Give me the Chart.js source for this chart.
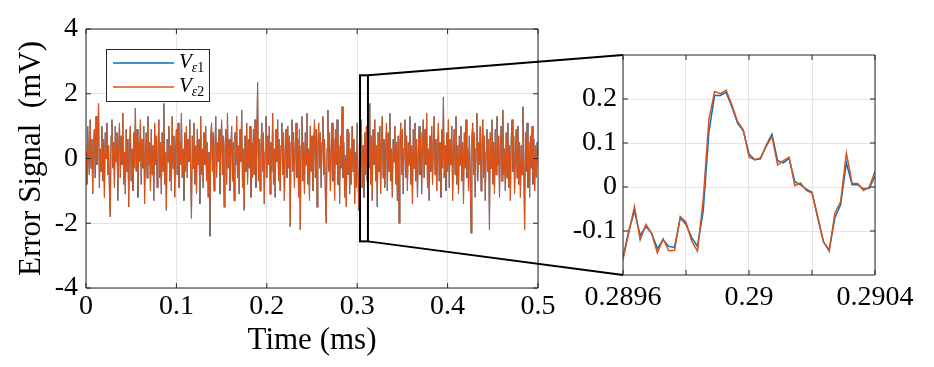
<!DOCTYPE html>
<html>
<head>
<meta charset="utf-8">
<script src="https://cdn.jsdelivr.net/npm/chart.js@4.4.0/dist/chart.umd.min.js"></script>
<style>
  html, body { margin: 0; padding: 0; background: #fff; }
  #wrap { position: relative; width: 934px; height: 367px; overflow: hidden; }
  #main-chart { position: absolute; left: 0; top: 0; }
  #zoom-chart { position: absolute; left: 560px; top: 0; }
</style>
</head>
<body>
<div id="wrap">
  <canvas id="main-chart" width="934" height="367"></canvas>
  <canvas id="zoom-chart" width="374" height="367"></canvas>
</div>
<script>
// Series names (legend)
const seriesBase = ['V', 'V'];
const seriesSub = ['ε', 'ε'];
const seriesIdx = ['1', '2'];
const seriesColors = ['#0072BD', '#D95319'];

// Main plot: error signal over 0..0.5 ms (mV), both channels overlap
const mainV = [
  0.2, -0.8, 1.0, 0.1, -0.5, 1.2, -0.3, 0.6, -1.1, 0.4, 0.9, -0.6, 1.3, -0.2, 0.5, 1.7, -0.9, 0.3, -0.4, 1.0,
  -0.7, 0.6, -1.2, 0.8, 0.0, 1.1, -0.5, 0.4, -1.0, -1.8, 0.7, 1.2, -0.3, 0.5, -0.9, 1.0, -0.1, 0.8, -1.3, 0.3,
  1.1, -0.6, 0.7, -0.2, 1.4, -0.8, 0.2, -1.1, 0.9, -0.4, 0.6, -1.5, 0.4, 1.0, -0.7, 0.3, -1.0, 0.8, -0.3, 1.55,
  -0.4, 0.9, -1.2, 0.5, -0.1, 1.2, -0.8, 0.6, -0.3, 1.0, -1.4, 0.2, 0.8, -0.6, 1.3, -0.2, 0.5, -1.0, 0.9, -0.5,
  0.4, -1.3, 1.1, -0.2, 0.7, -0.9, 0.3, 1.2, -0.6, 0.5, -1.1, 0.8, -0.4, 1.7, -0.8, 0.2, -1.6, 0.6, -0.1, 1.0,
  -0.7, 0.4, -1.0, 1.3, -0.3, 0.7, -1.2, 0.2, 0.9, -0.5, 1.1, -0.9, 0.5, -0.2, 1.4, -0.6, 0.3, -1.3, 0.8, -0.4,
  1.0, -0.6, 0.6, -0.1, 1.2, -0.4, -1.85, 0.7, -0.3, 1.1, -0.8, 0.4, -1.1, 0.9, -0.2, 0.6, -1.4, 1.3, -0.5, 0.3,
  -0.9, 0.8, -0.2, 1.0, -0.7, 0.5, -1.2, 0.2, -2.4, 0.6, 1.1, -0.4, 0.8, -1.0, 0.3, 1.3, -0.6, 0.5, -0.1, 0.9,
  -1.1, 0.4, 1.2, -0.5, 0.7, -1.5, 0.3, 0.9, -0.8, 1.4, -0.3, 0.6, -1.0, 0.2, 1.0, -0.7, 0.5, -1.3, 0.8, -0.2,
  1.3, -0.6, 0.4, -1.1, 0.9, -0.1, 1.5, -0.9, 0.3, -1.6, 0.7, -0.4, 1.1, -0.8, 0.6, -0.3, 1.0, -1.2, 0.5, -0.6,
  0.9, -0.5, 1.2, -0.9, 0.4, 2.35, -0.7, 0.6, -1.0, 0.3, 1.1, -0.4, 0.8, -1.4, 0.2, 1.3, -0.6, 0.7, -0.2, 1.0,
  -1.1, 0.5, -0.4, 1.4, -0.8, 0.3, -1.2, 0.9, -0.1, 1.2, -0.7, 0.6, -1.0, 0.4, 1.1, -0.5, 0.8, -1.3, 0.2, 0.9,
  -0.6, 1.0, -0.3, 0.7, -2.1, 0.5, 1.2, -0.4, 0.8, -0.9, 0.3, 1.1, -0.6, 0.6, -1.2, 0.9, -2.2, 0.4, 1.3, -0.7,
  0.5, -1.1, 0.8, -0.2, 1.4, -0.8, 0.3, -1.3, 1.0, -0.4, 0.7, -1.0, 0.2, 1.2, -0.6, 0.9, -1.5, 0.4, 1.1, -0.3,
  0.8, -0.9, 0.5, 1.3, -0.5, 0.6, -1.2, -2.0, 0.3, 1.5, -0.4, 0.8, -1.0, 0.2, 1.1, -0.7, 0.6, -1.3, 0.9, -0.2,
  1.2, -0.8, 0.4, -1.4, 0.7, -0.3, 1.6, -0.6, 0.5, -1.2, 0.1, -1.5, 0.9, -0.5, 0.8, -1.1, 0.3, -0.8, 1.0, -0.4,
  0.6, -1.4, 0.2, -0.9, 1.1, -0.6, -1.6, 0.3, -0.2, 1.2, -0.9, 0.4, -1.2, 0.8, -0.5, 1.0, -0.7, 0.5, -0.3, 1.7,
  -0.8, 0.7, -1.3, 0.9, -0.2, 1.2, -0.7, 0.4, -1.5, 0.8, -0.4, 1.0, -1.1, 0.5, 1.3, -0.6, 0.6, -0.9, 0.2, 1.1,
  -1.0, 0.8, -0.4, 1.4, -0.7, 0.3, -1.2, 0.6, -0.1, 1.0, -0.8, 0.5, -1.3, 0.7, -2.0, 0.4, 1.1, -0.5, 0.9, -1.1,
  0.3, 1.2, -0.6, 0.7, -1.0, 0.5, -0.2, 1.3, -0.8, 0.4, -1.4, 0.9, -0.3, 1.1, -0.7, 0.6, -1.2, 0.2, 1.0, -0.5,
  0.8, -1.1, 0.4, 1.2, -0.6, 0.9, -0.2, 1.4, -0.9, 0.3, -1.3, 0.7, -0.4, 1.0, -0.8, 0.5, 1.3, -0.5, 0.6, -1.0,
  0.2, 1.1, -0.7, 0.5, -1.2, 0.9, -0.3, 1.9, -0.6, 0.4, -1.0, 0.8, -0.4, 1.2, -0.9, 0.6, -0.2, 1.0, -1.3, 0.3,
  0.9, -0.5, 1.3, -0.8, 0.4, -1.1, 0.7, -0.2, 1.0, -0.7, 0.5, -1.4, 0.8, -0.3, 1.2, -0.6, 0.3, -1.0, 0.7, -0.4,
  -2.3, 0.6, 1.1, -0.5, 0.8, -1.2, 0.3, 1.4, -0.7, 0.5, -0.2, 1.0, -1.0, 0.4, 1.2, -0.6, 0.7, -1.3, 0.2, 0.9,
  -0.4, 0.6, -2.2, 0.8, -0.3, 1.2, -0.8, 0.5, -1.1, 0.9, -0.5, 1.3, -0.2, 0.7, -1.2, 0.4, 1.0, -0.7, 1.5, -0.5,
  0.3, -1.0, 0.8, -0.6, 1.1, -0.9, 0.4, -1.3, 0.6, 1.2, -0.4, 0.7, -1.1, 0.2, 0.9, -0.6, 1.0, -0.8, 0.5, -1.2,
  0.4, -0.5, 1.6, -0.3, -2.2, 0.8, -0.4, 1.1, -0.9, 0.5, -1.2, 0.7, -0.3, 1.0, -0.8, 0.6, -1.0, 0.4, -0.6, 0.5,
  0.1
];
const mainStart = 0;
const mainEnd = 0.5;
const mainXTicks = [0, 0.1, 0.2, 0.3, 0.4, 0.5];
const mainYTicks = [-4, -2, 0, 2, 4];

// Zoomed region marker drawn on the main plot (ms, mV)
const zoomBoxX = [0.3031, 0.3119];
const zoomBoxY = [-2.56, 2.57];

// Inset: 0.2896..0.2904 ms
const zoomV1 = [
  -0.16, -0.10, -0.055, -0.11, -0.09, -0.105, -0.14, -0.12, -0.135, -0.137,
  -0.07, -0.085, -0.115, -0.135, -0.055, 0.125, 0.208, 0.208, 0.215, 0.183,
  0.145, 0.128, 0.075, 0.062, 0.064, 0.095, 0.12, 0.06, 0.055, 0.065,
  0.012, 0.005, -0.005, -0.012, -0.07, -0.125, -0.143, -0.07, -0.04, 0.055,
  0.005, 0.005, -0.004, -0.003, 0.025
];
const zoomV2 = [
  -0.165, -0.105, -0.044, -0.12, -0.085, -0.105, -0.15, -0.118, -0.145, -0.144,
  -0.067, -0.08, -0.123, -0.146, -0.03, 0.153, 0.217, 0.212, 0.22, 0.187,
  0.149, 0.13, 0.068, 0.062, 0.066, 0.092, 0.115, 0.05, 0.06, 0.068,
  0.003, 0.009, -0.008, -0.014, -0.067, -0.124, -0.146, -0.059, -0.033, 0.077,
  0.008, 0.008, -0.008, 0, 0.036
];
const zoomStart = 0.2896;
const zoomEnd = 0.2904;
const zoomXTicks = [0.2896, 0.2898, 0.29, 0.2902, 0.2904];
const zoomXLabels = [0.2896, 0.29, 0.2904];
const zoomYTicks = [-0.1, 0, 0.1, 0.2];

const FONT = "'Liberation Serif', 'Times New Roman', serif";
const GRID = '#e4e4e4';
const AXIS = '#262626';
const INSET_OFFSET = 560;

function toPoints(values, t0, t1) {
  const dt = (t1 - t0) / (values.length - 1);
  return values.map((v, i) => ({ x: t0 + i * dt, y: v }));
}

function drawBox(chart, xTicks, yTicks) {
  const { ctx, chartArea: a, scales: { x, y } } = chart;
  const tl = 5;
  ctx.save();
  ctx.strokeStyle = AXIS;
  ctx.lineWidth = 1;
  ctx.beginPath();
  ctx.rect(a.left, a.top, a.right - a.left, a.bottom - a.top);
  xTicks.forEach((v) => {
    const px = x.getPixelForValue(v);
    ctx.moveTo(px, a.bottom); ctx.lineTo(px, a.bottom - tl);
    ctx.moveTo(px, a.top); ctx.lineTo(px, a.top + tl);
  });
  yTicks.forEach((v) => {
    const py = y.getPixelForValue(v);
    ctx.moveTo(a.left, py); ctx.lineTo(a.left + tl, py);
    ctx.moveTo(a.right, py); ctx.lineTo(a.right - tl, py);
  });
  ctx.stroke();
  ctx.restore();
}

function drawLegend(chart) {
  const { ctx, chartArea: a } = chart;
  const bx = a.left + 20, by = a.top + 20, bw = 103, bh = 52;
  ctx.save();
  ctx.fillStyle = '#fff';
  ctx.fillRect(bx, by, bw, bh);
  ctx.strokeStyle = AXIS;
  ctx.lineWidth = 1;
  ctx.strokeRect(bx + 0.5, by + 0.5, bw, bh);
  seriesBase.forEach((base, i) => {
    const ly = by + 14 + i * 24;
    ctx.strokeStyle = seriesColors[i];
    ctx.lineWidth = 1.5;
    ctx.beginPath();
    ctx.moveTo(bx + 7, ly);
    ctx.lineTo(bx + 68, ly);
    ctx.stroke();
    ctx.fillStyle = '#000';
    ctx.textBaseline = 'alphabetic';
    let tx = bx + 73;
    ctx.font = `italic 21px ${FONT}`;
    ctx.fillText(base, tx, ly + 5);
    tx += ctx.measureText(base).width;
    ctx.font = `italic 14px ${FONT}`;
    ctx.fillText(seriesSub[i], tx, ly + 9);
    tx += ctx.measureText(seriesSub[i]).width;
    ctx.font = `14px ${FONT}`;
    ctx.fillText(seriesIdx[i], tx, ly + 9);
  });
  ctx.restore();
}

function axisFont(size) {
  return { family: FONT, size: size, lineHeight: 1.2 };
}

// Inset first, so the main plot can aim its connector lines at it
const zoomChart = new Chart(document.getElementById('zoom-chart'), {
  type: 'line',
  data: {
    datasets: [
      { label: 'V_e1', data: toPoints(zoomV1, zoomStart, zoomEnd), borderColor: seriesColors[0], borderWidth: 1.5, pointRadius: 0, tension: 0, order: 1 },
      { label: 'V_e2', data: toPoints(zoomV2, zoomStart, zoomEnd), borderColor: seriesColors[1], borderWidth: 1.5, pointRadius: 0, tension: 0, order: 0 }
    ]
  },
  options: {
    responsive: false,
    animation: false,
    events: [],
    layout: { padding: { left: 0, top: 55, right: 59, bottom: 0 } },
    plugins: { legend: { display: false }, tooltip: { enabled: false } },
    scales: {
      x: {
        type: 'linear', min: zoomStart, max: zoomEnd,
        afterBuildTicks: (s) => { s.ticks = zoomXTicks.map((v) => ({ value: v })); },
        afterFit: (s) => { s.height = 92; },
        grid: { color: GRID, drawTicks: false },
        border: { display: false },
        ticks: { color: '#000', font: axisFont(28), padding: 6, maxRotation: 0, autoSkip: false,
          callback: (v) => (zoomXLabels.includes(v) ? String(v) : '') }
      },
      y: {
        min: -0.2, max: 0.3,
        afterBuildTicks: (s) => { s.ticks = zoomYTicks.map((v) => ({ value: v })); },
        afterFit: (s) => { s.width = 63; },
        grid: { color: GRID, drawTicks: false },
        border: { display: false },
        ticks: { color: '#000', font: axisFont(28), padding: 6, callback: (v) => String(v) }
      }
    }
  },
  plugins: [{
    id: 'zoomBox',
    afterDraw: (chart) => drawBox(chart, zoomXTicks, zoomYTicks)
  }]
});

const mainChart = new Chart(document.getElementById('main-chart'), {
  type: 'line',
  data: {
    datasets: [
      { label: 'V_e1', data: toPoints(mainV, mainStart, mainEnd), borderColor: seriesColors[0], borderWidth: 1, pointRadius: 0, tension: 0, order: 1 },
      { label: 'V_e2', data: toPoints(mainV, mainStart, mainEnd), borderColor: seriesColors[1], borderWidth: 1.1, pointRadius: 0, tension: 0, order: 0 }
    ]
  },
  options: {
    responsive: false,
    animation: false,
    events: [],
    layout: { padding: { left: 0, top: 29, right: 396, bottom: 0 } },
    plugins: { legend: { display: false }, tooltip: { enabled: false } },
    scales: {
      x: {
        type: 'linear', min: mainStart, max: mainEnd,
        afterBuildTicks: (s) => { s.ticks = mainXTicks.map((v) => ({ value: v })); },
        afterFit: (s) => { s.height = 79; },
        grid: { color: GRID, drawTicks: false },
        border: { display: false },
        ticks: { color: '#000', font: axisFont(28), padding: 2, maxRotation: 0, autoSkip: false, callback: (v) => String(v) },
        title: { display: true, text: 'Time (ms)', color: '#000', font: axisFont(31), padding: { top: 0, bottom: 8 } }
      },
      y: {
        min: -4, max: 4,
        afterBuildTicks: (s) => { s.ticks = mainYTicks.map((v) => ({ value: v })); },
        afterFit: (s) => { s.width = 86; },
        grid: { color: GRID, drawTicks: false },
        border: { display: false },
        ticks: { color: '#000', font: axisFont(28), padding: 8, callback: (v) => String(v) },
        title: { display: true, text: 'Error Signal  (mV)', color: '#000', font: axisFont(31), padding: { top: 13, bottom: 0 } }
      }
    }
  },
  plugins: [{
    id: 'mainDecor',
    afterDraw: (chart) => {
      drawBox(chart, mainXTicks, mainYTicks);
      drawLegend(chart);
      const { ctx, scales: { x, y } } = chart;
      const x0 = x.getPixelForValue(zoomBoxX[0]);
      const x1 = x.getPixelForValue(zoomBoxX[1]);
      const y0 = y.getPixelForValue(zoomBoxY[1]);
      const y1 = y.getPixelForValue(zoomBoxY[0]);
      const za = zoomChart.chartArea;
      ctx.save();
      ctx.strokeStyle = '#000';
      ctx.lineWidth = 2;
      ctx.strokeRect(x0, y0, x1 - x0, y1 - y0);
      ctx.beginPath();
      ctx.moveTo(x1, y0); ctx.lineTo(INSET_OFFSET + za.left, za.top);
      ctx.moveTo(x1, y1); ctx.lineTo(INSET_OFFSET + za.left, za.bottom);
      ctx.stroke();
      ctx.restore();
    }
  }]
});
</script>
</body>
</html>
